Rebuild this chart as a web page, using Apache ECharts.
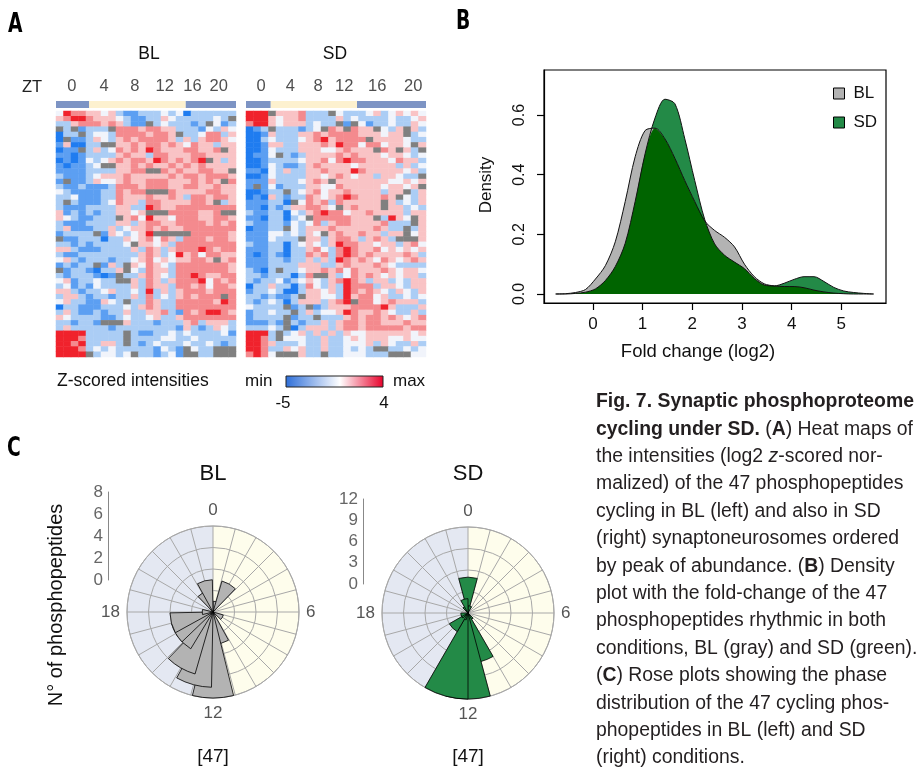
<!DOCTYPE html>
<html><head><meta charset="utf-8">
<script src="https://cdn.jsdelivr.net/npm/echarts@6/dist/echarts.min.js"></script>
<style>html,body{margin:0;padding:0;background:#fff}#c{width:918px;height:775px}</style>
</head><body><div id="c"></div>
<script>
// ---------- Panel A data ----------
const ztLabels = ['0', '4', '8', '12', '16', '20'];
const blZtPos = [2.1, 6.4, 10.5, 14.5, 18.2, 21.7];
const sdZtPos = [2.0, 5.9, 9.6, 13.1, 17.5, 22.3];
const lightBarPhase = ['dark', 'light', 'dark'];
const blLightBar = [4.4, 12.9, 6.7];
const sdLightBar = [3.3, 11.5, 9.2];
// codes: B strong blue, b blue, l light blue, w white, p pink, r red, R strong red, g missing
const blRows = [
"wRrr ppwp lbbl llwl wBll llll","prRR rppp wlbb llpw llll lwlg","llpr rrpr plbb glwl llbl gwbl",
"glgb lllg rrrp rrpp lllb wlpw","Bllg lwwl rrrr prrp gllw rrlp","Bgbb lpwl prpr rrrp lplp rrpw",
"bpBB llgg pprp rrpr pwrp plpp","Bbbg lplw rprp Rrpp prrp prgp","bbBb llll prpp lrrp pprr pppp",
"BbBb wlwp rprr pRrp rprR gplp","bBbb lwgg pprp rppr prpr pppp","bbbb llll pprr ggrp rppr rppg",
"lbbb lwpp prpp pppr prrp rrrp","bgbb lpww prpp rrrp pprp rpgr","lbbl bbbl rrrp rrrp prrp prpp",
"wlbb bbll rprr gggr pppp rrpp","llwb bbll rppp rppr plrr prrp","lglb bblw rppl rrpp pprr pglp",
"lbbb llll ppll Rrpp rrrr rrrr","pblb lbll ppwp gggr rrrp prgg","pwlb blll gprw Rppw rrrp prrp",
"lbbb llll pplp rrpp rrrr prpr","lpbb bllp lwpp rprp prrr rrrr","blll lgbp wlwp Rggg ggrr rrrp",
"gbbl llBl lpwp rwrp lrrr prrp","llbl blll lwgp pwpl rrrr rrrr","pplb bbll llpl rplp rrrR rprr",
"lbbl llll lllp rplw Rprw rrpp","wplb lllb llwp rwpw pprr pgpr","blbl lgbp lgpw rpwl rrrr rrrp",
"gbll bBll pgwl rppl rrrr rrrp","lbll lbBb gllp rpwl rrRr pprr","wpbl lwll ggpl rplp rrrR wrpr",
"lwbl bwll llpl rppl rrpr wrrp","pplb llwp llwl Rlpl prrr prrr","lppl bllb llpl rlwl prpr rrgr",
"wpll bbpw lgll rpll rrrr rpRr","Bllb bbll lwlp rpll rrrr rrrr","lplb blbl lpll pprl brpr RRrp",
"pwll llbb lwll wpll prrr rrrr","llbl lbgg gpll lbll lprl pppl","lpll lllb llll llll bplb lpwl",
"RRRR llll lglb bllw lwll llwb","RRRr llll lgll llww llwl llll","RRrR llpp lglb lwll lwll wlbl",
"RRRr lwlw llll lbwl bgwl lggg","RRRR glww lwgl lblw bggl lggg"
];
const sdRows = [
"RRRg pppr lllg wlll wplw pwpw","RRRp wppr llll plwl lllw llwp","rRRp wppp lwll gbgw bllw llpw",
"Bblg lllb lwgr pgrp pgwl pgpl","BBbp lllp prpr rrrp ppwp pglw","BBlw lllw prRp rrrr gppp pwll",
"BBbp pllp pprp Rrrw rrwp pwgp","BBbw lllp ppww prpp pgrp gplg","Bbbw glbl pppp rprp ppwp pwlw",
"BBbl lllw pprw rRrr pppw rppl","BBbw lbbl prpp ppwp pppp lplw","bbBw lpll pprp ppRr pppp pwpl",
"BBbw llll ppwp rpwp plpp wllg","bbbp lllw prpg pppp pppw wpwp","bgbw blll ppww rppp ppwp pwpg",
"BBbl lglw prwp prpp pplp pglp","BbBp lbll rpwp rRrp pprp gwlp","bbbl lBgw rprl rppp ppgp lwlp",
"bbBl blpp rrpw gprp ppgp plwl","lbbl lBwl prRr rwpp rppp plpp","bbBl lBlw grrr rrpp pglR pwgp",
"lbbl lbwl wrlp rrpp pprl llgp","Bbbl lgwl pppr pppp prpl lglp","bbbw wlwl pwgp rppr pplp pgwp",
"bbbw lllg pplp rrpl prpl gggp","lbbl lBlw pwlp Rrrp pwpp lprw","bbbl lBll prwl rRrp prwp wpwp",
"bBbl bBll rprl rRrp rppp prpl","bbbl lbll plpl Rrpr pwrp wprp","bbbl lllp ppll prpp prpw llll",
"lbBl gllw pprp rwrp pprp wppw","llbl llBl rggp lwrp rpwp wppl","lbll wblw pwlp rRrp lppl wlpp",
"Bllp llBl rwlp lRrr rlpp wlpp","bllw lBBl ppwp lRrp rpwl pwlp","llbl bblg ppww lRpr rwpl lwlw",
"lblw lBlp pplp rRgr rwpr pppl","wlll lgbl gblp pprr rrRp lllp","bllw llgl plww pRrp prpw llpl",
"blll lgbl lgll lprp rrpr pwpr","bbbl bglb llpl prrp rrpp prpp","lllw lgBl pppl prrp rrrr rprr",
"RRRl glwp lplp lpww pppp ppwp","RRrl gwww llpl lwpw pppw wpww","RRrp lllw llpl lwww plpw llpl",
"RRrl lpwp llpl lwlw lggl lwlw","rRrw gggp llgl lwww lllg ggww"
];
const codeValues = {B: -4, b: -2.5, l: -1, w: 0, p: 1, r: 2, R: 3.5, g: -9};
const codeColors = {B: '#1f7cf0', b: '#5c9ff2', l: '#abcdf5', w: '#f1f4fb', p: '#f9c3c5', r: '#f48a8e', R: '#f0222c', g: '#808080'};

// ---------- Panel B data ----------
const foldX = [-0.75,-0.55,-0.35,-0.15,0.05,0.25,0.45,0.65,0.85,1.05,1.25,1.45,1.65,1.85,2.05,2.25,2.45,2.65,2.85,3.05,3.25,3.45,3.65,3.85,4.05,4.25,4.45,4.65,4.85,5.05,5.25,5.45,5.65];
const blDensity = [0,0.001,0.005,0.015,0.05,0.095,0.175,0.31,0.46,0.548,0.556,0.52,0.455,0.38,0.31,0.245,0.213,0.19,0.158,0.10,0.058,0.034,0.027,0.025,0.025,0.021,0.013,0.007,0.003,0.001,0,0,0];
const sdDensity = [0,0,0.002,0.006,0.017,0.045,0.092,0.17,0.31,0.47,0.59,0.653,0.638,0.52,0.38,0.25,0.168,0.13,0.107,0.085,0.052,0.03,0.027,0.036,0.049,0.058,0.058,0.042,0.022,0.01,0.005,0.002,0];
const foldTicks = [0, 1, 2, 3, 4, 5];
const densityTicks = [0, 0.2, 0.4, 0.6];

// ---------- Panel C data ----------
const roseHours = [0,1,2,3,4,5,6,7,8,9,10,11,12,13,14,15,16,17,18,19,20,21,22,23];
const blRose = [0,1,3,0,0,0,0,0,1,0,0,3,8,7,6,4,4,4,1,0,0,0,2,3];
const sdRose = [5,1,0,0,0,0,0,0,0,0,1,7,12,12,1,3,1,1,0,0,0,0,1,2];
const roseAngleLabels = [0, 6, 12, 18];
const roseHalves = [12, 12];
const blRoseMax = 8, blRoseStep = 2;
const sdRoseMax = 12, sdRoseStep = 3;

const FONT = "'Liberation Sans', Arial, sans-serif";

function heatData(rows) {
  const out = [];
  rows.forEach((row, r) => {
    const s = row.replace(/ /g, '');
    for (let c = 0; c < s.length; c++) out.push([c, r, codeValues[s[c]]]);
  });
  return out;
}
const cols = roseHours.map(String); // 24 columns
const rowIdx = blRows.map((_, i) => String(i));

function heatGridAxes(gi) {
  return {
    x: {gridIndex: gi, type: 'category', data: cols, show: false},
    y: {gridIndex: gi, type: 'category', data: rowIdx, inverse: true, show: false}
  };
}
const hA = heatGridAxes(0), hB = heatGridAxes(1);

function lightBarSeries(values, xi, stack) {
  return values.map((v, i) => ({
    type: 'bar', xAxisIndex: xi, yAxisIndex: xi, stack: stack, data: [v],
    barWidth: '100%', silent: true,
    itemStyle: {color: lightBarPhase[i] === 'light' ? '#fdf1cf' : '#7d94c4'}
  }));
}
function ztSeries(pos, xi) {
  return {
    type: 'scatter', xAxisIndex: xi, yAxisIndex: xi, symbolSize: 1,
    itemStyle: {color: 'rgba(0,0,0,0)'}, silent: true,
    data: pos.map((p, i) => ({value: [p, 'bar'], name: ztLabels[i]})),
    label: {show: true, position: 'top', distance: 9, formatter: p => p.name,
      fontFamily: FONT, fontSize: 16.5, color: '#222'}
  };
}

const minDensity = blDensity.map((v, i) => Math.min(v, sdDensity[i]));
const pairs = arr => foldX.map((x, i) => [x, arr[i]]);

function roseAngle(pi) {
  return {
    polarIndex: pi, type: 'value', min: 0, max: 24, interval: 1, startAngle: 90, clockwise: true, z: 4,
    axisLine: {show: true, lineStyle: {color: '#a8a8a8', width: 1}},
    axisTick: {show: false},
    splitLine: {show: true, lineStyle: {color: '#a8a8a8', width: 1}},
    axisLabel: {formatter: v => roseAngleLabels.includes(v) ? String(v) : '', color: '#555',
      fontFamily: FONT, fontSize: 17, margin: 7}
  };
}
function roseRadius(pi, max, step) {
  return {
    polarIndex: pi, type: 'value', min: 0, max: max, interval: step, z: 4,
    axisLine: {show: false}, axisTick: {show: false}, axisLabel: {show: false},
    splitLine: {show: true, lineStyle: {color: '#a8a8a8', width: 1}}
  };
}
function roseBars(pi, vals, color, name) {
  return {
    type: 'bar', name: name, coordinateSystem: 'polar', polarIndex: pi, barWidth: '100%', z: 6,
    data: roseHours.map((h, i) => [vals[i], h]).filter(d => d[0] > 0),
    itemStyle: {color: color, borderColor: '#000', borderWidth: 0.8}, silent: true
  };
}
function roseBg(center) {
  return {
    type: 'pie', center: center, radius: [0, 86], startAngle: 90, clockwise: true, z: 0, silent: true,
    label: {show: false}, labelLine: {show: false}, animation: false,
    data: [{value: roseHalves[0], name: 'light', itemStyle: {color: '#fefdec'}},
           {value: roseHalves[1], name: 'dark', itemStyle: {color: '#e4e8f2'}}]
  };
}
function txt(x, y, text, size, opts) {
  return Object.assign({type: 'text', x: x, y: y, silent: true,
    style: Object.assign({text: text, fontFamily: FONT, fontSize: size, fill: '#111',
      align: 'center', verticalAlign: 'middle'}, (opts && opts.style) || {})},
    (opts && opts.el) || {});
}
const letterStyle = {align: 'left', fontFamily: "'DejaVu Sans', sans-serif", fontWeight: 'bold', fill: '#000'};

const caption = [
  '{hb|Fig. 7. Synaptic phosphoproteome}',
  '{hb|cycling under SD.} ({b|A}) Heat maps of',
  'the intensities (log2 {i|z}-scored nor-',
  'malized) of the 47 phosphopeptides',
  'cycling in BL (left) and also in SD',
  '(right) synaptoneurosomes ordered',
  'by peak of abundance. ({b|B}) Density',
  'plot with the fold-change of the 47',
  'phosphopeptides rhythmic in both',
  'conditions, BL (gray) and SD (green).',
  '({b|C}) Rose plots showing the phase',
  'distribution of the 47 cycling phos-',
  'phopeptides in BL (left) and SD',
  '(right) conditions.'
].join('\n');

const option = {
  animation: false,
  backgroundColor: '#fff',
  textStyle: {fontFamily: FONT},
  grid: [
    {left: 56, top: 111, width: 180, height: 246},
    {left: 246, top: 111, width: 180, height: 246},
    {left: 56, top: 101, width: 180, height: 7},
    {left: 246, top: 101, width: 180, height: 7},
    {left: 544, top: 70, width: 342, height: 233, show: true, borderColor: '#000', borderWidth: 1.2, backgroundColor: 'transparent'},
    {left: 108, top: 492, width: 1, height: 88},
    {left: 363, top: 499, width: 1, height: 85}
  ],
  xAxis: [
    hA.x, hB.x,
    {gridIndex: 2, type: 'value', min: 0, max: 24, show: false},
    {gridIndex: 3, type: 'value', min: 0, max: 24, show: false},
    {gridIndex: 4, type: 'value', min: -0.985, max: 5.9,
      axisLine: {show: true, onZero: false, lineStyle: {color: '#000', width: 1.2}},
      axisTick: {show: true, length: 7, customValues: foldTicks, lineStyle: {color: '#000', width: 1.2}},
      axisLabel: {customValues: foldTicks, fontSize: 17, color: '#111', margin: 13, fontFamily: FONT},
      splitLine: {show: false}},
    {gridIndex: 5, type: 'value', show: false},
    {gridIndex: 6, type: 'value', show: false}
  ],
  yAxis: [
    hA.y, hB.y,
    {gridIndex: 2, type: 'category', data: ['bar'], show: false},
    {gridIndex: 3, type: 'category', data: ['bar'], show: false},
    {gridIndex: 4, type: 'value', min: -0.0302, max: 0.751,
      axisLine: {show: true, onZero: false, lineStyle: {color: '#000', width: 1.2}},
      axisTick: {show: true, length: 7, customValues: densityTicks, lineStyle: {color: '#000', width: 1.2}},
      axisLabel: {customValues: densityTicks, rotate: 90, fontSize: 16, color: '#111', margin: 16,
        formatter: v => v.toFixed(1), fontFamily: FONT},
      splitLine: {show: false}},
    {gridIndex: 5, type: 'value', min: 0, max: blRoseMax, interval: blRoseStep,
      axisLine: {show: true, lineStyle: {color: '#888'}}, axisTick: {show: false}, splitLine: {show: false},
      axisLabel: {color: '#666', fontSize: 17, margin: 5, fontFamily: FONT}},
    {gridIndex: 6, type: 'value', min: 0, max: sdRoseMax, interval: sdRoseStep,
      axisLine: {show: true, lineStyle: {color: '#888'}}, axisTick: {show: false}, splitLine: {show: false},
      axisLabel: {color: '#666', fontSize: 17, margin: 5, fontFamily: FONT}}
  ],
  polar: [
    {center: [213, 612], radius: 86},
    {center: [468, 613], radius: 86}
  ],
  angleAxis: [roseAngle(0), roseAngle(1)],
  radiusAxis: [roseRadius(0, blRoseMax, blRoseStep), roseRadius(1, sdRoseMax, sdRoseStep)],
  visualMap: {
    type: 'piecewise', show: false, seriesIndex: [0, 1], dimension: 2,
    pieces: Object.keys(codeValues).map(k => ({value: codeValues[k], color: codeColors[k]}))
  },
  legend: {
    data: [{name: 'BL', icon: 'rect'}, {name: 'SD', icon: 'rect'}],
    left: 828, top: 80, orient: 'vertical', itemWidth: 11, itemHeight: 11, itemGap: 12,
    itemStyle: {borderColor: '#000', borderWidth: 1},
    textStyle: {fontSize: 17, color: '#111', fontFamily: FONT, padding: [0, 0, 0, 4]},
    selectedMode: false
  },
  series: [
    {type: 'heatmap', xAxisIndex: 0, yAxisIndex: 0, data: heatData(blRows), itemStyle: {borderWidth: 0}, silent: true},
    {type: 'heatmap', xAxisIndex: 1, yAxisIndex: 1, data: heatData(sdRows), itemStyle: {borderWidth: 0}, silent: true},
    ...lightBarSeries(blLightBar, 2, 'bl'),
    ...lightBarSeries(sdLightBar, 3, 'sd'),
    ztSeries(blZtPos, 2),
    ztSeries(sdZtPos, 3),
    {type: 'line', name: 'SD', xAxisIndex: 4, yAxisIndex: 4, data: pairs(sdDensity), smooth: 0.3, symbol: 'none',
      lineStyle: {width: 0}, areaStyle: {color: '#238a47', opacity: 1}, itemStyle: {color: '#238a47'}, z: 2},
    {type: 'line', name: 'BL', xAxisIndex: 4, yAxisIndex: 4, data: pairs(blDensity), smooth: 0.3, symbol: 'none',
      lineStyle: {width: 0}, areaStyle: {color: '#b3b3b3', opacity: 1}, itemStyle: {color: '#b3b3b3'}, z: 3},
    {type: 'line', name: 'overlap', xAxisIndex: 4, yAxisIndex: 4, data: pairs(minDensity), smooth: 0.3, symbol: 'none',
      lineStyle: {width: 0}, areaStyle: {color: '#006400', opacity: 1}, itemStyle: {color: '#006400'}, z: 4},
    {type: 'line', name: 'BL outline', xAxisIndex: 4, yAxisIndex: 4, data: pairs(blDensity), smooth: 0.3, symbol: 'none',
      lineStyle: {width: 1, color: '#111'}, z: 5},
    {type: 'line', name: 'SD outline', xAxisIndex: 4, yAxisIndex: 4, data: pairs(sdDensity), smooth: 0.3, symbol: 'none',
      lineStyle: {width: 1, color: '#111'}, z: 5},
    roseBg([213, 612]),
    roseBg([468, 613]),
    roseBars(0, blRose, '#b3b3b3', 'BL rose'),
    roseBars(1, sdRose, '#238a47', 'SD rose')
  ],
  graphic: [
    txt(8, 25, 'A', 26, {style: letterStyle, el: {scaleX: 0.72}}),
    txt(456, 22, 'B', 26, {style: letterStyle, el: {scaleX: 0.72}}),
    txt(7, 449, 'C', 26, {style: letterStyle, el: {scaleX: 0.72}}),
    txt(149, 54, 'BL', 17.5),
    txt(335, 54, 'SD', 17.5),
    txt(32, 87, 'ZT', 16.5, {style: {fill: '#222'}}),
    txt(57, 381, 'Z-scored intensities', 17.5, {style: {align: 'left'}}),
    txt(245, 381, 'min', 17, {style: {align: 'left'}}),
    txt(393, 381, 'max', 17, {style: {align: 'left'}}),
    txt(283, 403, '-5', 17),
    txt(384, 403, '4', 17),
    {type: 'rect', silent: true, shape: {x: 286, y: 376, width: 97, height: 11},
      style: {stroke: '#222', lineWidth: 1,
        fill: new echarts.graphic.LinearGradient(0, 0, 1, 0, [
          {offset: 0, color: '#2d6ed8'}, {offset: 0.556, color: '#ffffff'}, {offset: 1, color: '#e8002a'}])}},
    txt(486, 185, 'Density', 17, {el: {rotation: Math.PI / 2}}),
    txt(698, 352, 'Fold change (log2)', 18.5),
    txt(213, 474, 'BL', 22),
    txt(468, 474, 'SD', 22),
    txt(213, 757, '[47]', 19),
    txt(468, 757, '[47]', 19),
    txt(56, 605, 'N° of phosphopeptides', 20, {el: {rotation: Math.PI / 2}}),
    {type: 'text', x: 596, y: 388, scaleX: 0.97, silent: true,
      style: {text: caption, fontFamily: FONT, fontSize: 20, lineHeight: 27.4, fill: '#231f20',
        align: 'left', verticalAlign: 'top',
        rich: {hb: {fontWeight: 'bold', fontSize: 20, lineHeight: 27.4},
               b: {fontWeight: 'bold', fontSize: 20, lineHeight: 27.4},
               i: {fontStyle: 'italic', fontSize: 20, lineHeight: 27.4}}}}
  ]
};
const chart = echarts.init(document.getElementById('c'));
chart.setOption(option);
</script></body></html>
